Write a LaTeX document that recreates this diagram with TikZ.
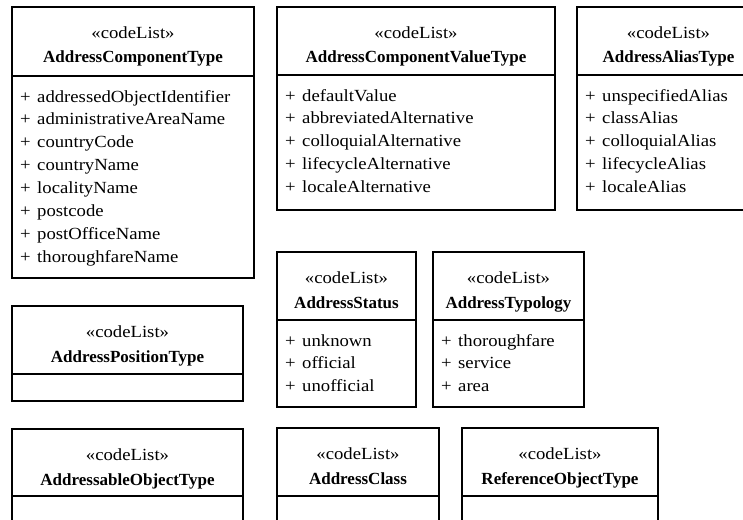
\documentclass[tikz,border=0pt]{standalone}
\usepackage{fontspec}
\setmainfont{Liberation Serif}[FakeStretch=1.1]
\newfontfamily\umltitlefont{Liberation Serif}
\begin{document}
\begin{tikzpicture}[x=1pt,y=-1pt,
  boxline/.style={draw=black,line width=1.4pt},
  stereo/.style={anchor=base,inner sep=0pt,font=\fontsize{17}{19}\selectfont},
  cname/.style={anchor=base,inner sep=0pt,font=\umltitlefont\fontsize{17}{19}\selectfont\bfseries},
  attr/.style={anchor=base west,inner sep=0pt,font=\fontsize{17}{19}\selectfont}]
\useasboundingbox (0,0) rectangle (743,519);
\clip (0,0) rectangle (743,519);
% #1 name, #2 x1, #3 y1, #4 x2, #5 yh, #6 y2, #7 title
\newcommand{\umlbox}[7]{%
  \draw[boxline] (#2,#3) rectangle (#4,#6);
  \coordinate (#1-nw) at (#2,#3);
  \coordinate (#1-hl) at (#2,#5);
  \coordinate (#1-hr) at (#4,#5);
  \draw[boxline] (#1-hl) -- (#1-hr);
  \node[stereo] (#1-st) at ({(#2+#4)/2},#3+31) {«codeList»};
  \node[cname] (#1-nm) at ({(#2+#4)/2},#3+56) {#7};
}
% #1 box name, #2 x1, #3 yh, #4 list
\newcommand{\umlattrs}[4]{%
  \foreach \a [count=\i] in {#4} {
    \node[attr] at (#2+8,#3+26+22.9*\i-22.9) {+};
    \node[attr] at (#2+25,#3+26+22.9*\i-22.9) {\a};
  }
}
\umlbox{act}{12}{7}{254}{76}{278}{AddressComponentType}
\umlattrs{act}{12}{76}{addressedObjectIdentifier,administrativeAreaName,countryCode,countryName,localityName,postcode,postOfficeName,thoroughfareName}
\umlbox{acvt}{277}{7}{555}{75}{210}{AddressComponentValueType}
\umlattrs{acvt}{277}{75}{defaultValue,abbreviatedAlternative,colloquialAlternative,lifecycleAlternative,localeAlternative}
\umlbox{aat}{577}{7}{760}{75}{210}{AddressAliasType}
\umlattrs{aat}{577}{75}{unspecifiedAlias,classAlias,colloquialAlias,lifecycleAlias,localeAlias}
\umlbox{apt}{12}{306}{243}{374}{401}{AddressPositionType}
\umlbox{as}{277}{252}{416}{320}{407}{AddressStatus}
\umlattrs{as}{277}{320}{unknown,official,unofficial}
\umlbox{aty}{433}{252}{584}{320}{407}{AddressTypology}
\umlattrs{aty}{433}{320}{thoroughfare,service,area}
\umlbox{aot}{12}{429}{243}{496}{540}{AddressableObjectType}
\umlbox{ac}{277}{428}{439}{496}{540}{AddressClass}
\umlbox{rot}{462}{428}{658}{496}{540}{ReferenceObjectType}
\end{tikzpicture}
\end{document}
